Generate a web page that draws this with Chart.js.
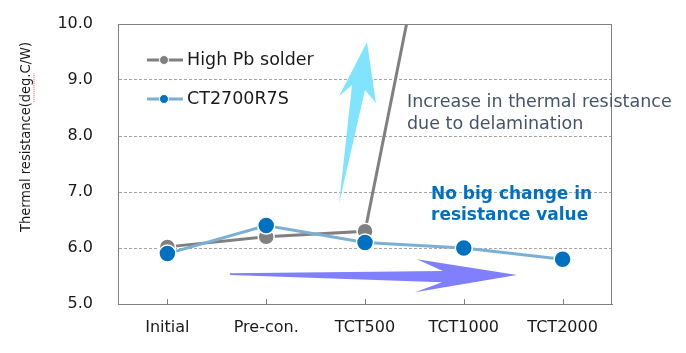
<!DOCTYPE html>
<html>
<head>
<meta charset="utf-8">
<script src="https://cdn.jsdelivr.net/npm/chart.js@4/dist/chart.umd.min.js"></script>
<style>
  html, body { margin: 0; padding: 0; background: #fff; }
  #wrap { width: 686px; height: 353px; position: relative; }
</style>
</head>
<body>
<div id="wrap"><canvas id="chart"></canvas></div>
<script>
// chart values
const categories = ['Initial', 'Pre-con.', 'TCT500', 'TCT1000', 'TCT2000'];
const highPbSolder = [6.02, 6.2, 6.3, 15.1, null];
const ct2700r7s = [5.9, 6.4, 6.1, 6.0, 5.8];
const seriesNames = ['High Pb solder', 'CT2700R7S'];
const yTicks = [5, 6, 7, 8, 9, 10];

const GRAY = '#808080';
const BLUE_LINE = '#7BAFD4';
const BLUE_DOT = '#0070C0';

// decoration arrows, in (category index, value) units
const upArrow = [[1.737, 6.79], [1.869, 8.91], [1.737, 8.71], [2.02, 9.68], [2.111, 8.59], [2.0, 8.82]];
const rightArrow = [[0.634, 5.55], [2.788, 5.59], [2.526, 5.80], [3.538, 5.52], [2.506, 5.21], [2.78, 5.39], [0.634, 5.52]];

function fillShape(ctx, chart, pts, color) {
    const x = chart.scales.x, y = chart.scales.y;
    ctx.beginPath();
    pts.forEach((p, i) => {
        const px = x.getPixelForValue(p[0]), py = y.getPixelForValue(p[1]);
        if (i === 0) ctx.moveTo(px, py); else ctx.lineTo(px, py);
    });
    ctx.closePath();
    ctx.fillStyle = color;
    ctx.fill();
}

const decorations = {
    id: 'decorations',
    beforeDatasetsDraw(chart) {
        const ctx = chart.ctx;
        const a = chart.chartArea;
        const x = chart.scales.x;
        ctx.save();
        // frame
        ctx.strokeStyle = GRAY;
        ctx.lineWidth = 1;
        ctx.strokeRect(a.left + 0.5, a.top + 0.5, a.right - a.left - 1, a.bottom - a.top);
        // small inner tick marks on the category axis
        categories.forEach((c, i) => {
            const px = Math.round(x.getPixelForValue(i)) + 0.5;
            ctx.beginPath();
            ctx.moveTo(px, a.bottom);
            ctx.lineTo(px, a.bottom - 5);
            ctx.stroke();
        });
        fillShape(ctx, chart, upArrow, '#80E4FF');
        fillShape(ctx, chart, rightArrow, '#8080FF');
        ctx.restore();
    },
    afterDraw(chart) {
        const ctx = chart.ctx;
        const a = chart.chartArea;
        ctx.save();
        // legend inside the plot
        const rows = [
            { name: seriesNames[0], line: GRAY, dot: GRAY, y: a.top + 36 },
            { name: seriesNames[1], line: BLUE_LINE, dot: BLUE_DOT, y: a.top + 75 }
        ];
        rows.forEach(r => {
            ctx.strokeStyle = r.line;
            ctx.lineWidth = 3;
            ctx.beginPath();
            ctx.moveTo(a.left + 29, r.y);
            ctx.lineTo(a.left + 65, r.y);
            ctx.stroke();
            ctx.beginPath();
            ctx.arc(a.left + 46, r.y, 4.5, 0, Math.PI * 2);
            ctx.fillStyle = r.dot;
            ctx.fill();
            ctx.strokeStyle = '#fff';
            ctx.lineWidth = 1;
            ctx.stroke();
            ctx.fillStyle = '#1a1a1a';
            ctx.font = '17.5px "DejaVu Sans"';
            ctx.textBaseline = 'middle';
            ctx.textAlign = 'left';
            ctx.fillText(r.name, a.left + 69, r.y);
        });
        // annotations
        ctx.fillStyle = '#44546A';
        ctx.font = '17.5px "DejaVu Sans"';
        ctx.fillText('Increase in thermal resistance', 407, 102);
        ctx.fillText('due to delamination', 407, 124);
        ctx.fillStyle = BLUE_DOT;
        ctx.font = 'bold 17px "DejaVu Sans"';
        ctx.fillText('No big change in', 431, 195);
        ctx.fillText('resistance value', 431, 216);
        // y axis title, with the spell-check squiggle under "deg."
        const title = 'Thermal resistance(deg.C/W)';
        ctx.translate(26, 137);
        ctx.rotate(-Math.PI / 2);
        ctx.font = '14.5px "DejaVu Sans Condensed", "DejaVu Sans"';
        const w = ctx.measureText(title).width;
        const w1 = ctx.measureText('Thermal resistance(').width;
        const w2 = ctx.measureText('deg.').width;
        ctx.textAlign = 'left';
        ctx.fillStyle = '#1a1a1a';
        ctx.fillText(title, -w / 2, 0);
        ctx.strokeStyle = '#ff4040';
        ctx.lineWidth = 1;
        ctx.setLineDash([1, 1]);
        ctx.beginPath();
        ctx.moveTo(-w / 2 + w1, 8);
        ctx.lineTo(-w / 2 + w1 + w2, 8);
        ctx.stroke();
        ctx.restore();
    }
};

Chart.defaults.font.family = '"DejaVu Sans"';

new Chart(document.getElementById('chart').getContext('2d'), {
    type: 'line',
    data: {
        labels: categories,
        datasets: [{
            label: seriesNames[0],
            data: highPbSolder,
            borderColor: GRAY,
            backgroundColor: GRAY,
            borderWidth: 3,
            pointRadius: 8,
            pointBorderColor: '#fff',
            pointBorderWidth: 1.5,
            pointBackgroundColor: GRAY,
            tension: 0,
            order: 2
        }, {
            label: seriesNames[1],
            data: ct2700r7s,
            borderColor: BLUE_LINE,
            backgroundColor: BLUE_DOT,
            borderWidth: 3,
            pointRadius: 8.5,
            pointBorderColor: '#fff',
            pointBorderWidth: 1.5,
            pointBackgroundColor: BLUE_DOT,
            tension: 0,
            order: 1
        }]
    },
    options: {
        responsive: true,
        maintainAspectRatio: false,
        animation: false,
        layout: { autoPadding: false, padding: { top: 24, right: 74, left: 0, bottom: 0 } },
        plugins: {
            legend: { display: false },
            tooltip: { enabled: false }
        },
        scales: {
            x: {
                offset: true,
                grid: { display: false, drawTicks: false },
                border: { display: true, color: GRAY },
                ticks: { color: '#1a1a1a', font: { size: 16 }, padding: 14, maxRotation: 0 },
                afterFit: s => { s.height = 49; s.paddingLeft = 0; s.paddingRight = 0; }
            },
            y: {
                min: 5,
                max: 10,
                afterBuildTicks: s => { s.ticks = yTicks.map(v => ({ value: v })); },
                grid: { color: '#a6a6a6', drawTicks: false },
                border: { display: true, color: GRAY, dash: [3, 2] },
                ticks: {
                    color: '#1a1a1a',
                    font: { size: 16 },
                    padding: 25,
                    callback: v => v.toFixed(1)
                },
                afterFit: s => { s.width = 118; s.paddingTop = 0; s.paddingBottom = 0; }
            }
        }
    },
    plugins: [decorations]
});
</script>
</body>
</html>
